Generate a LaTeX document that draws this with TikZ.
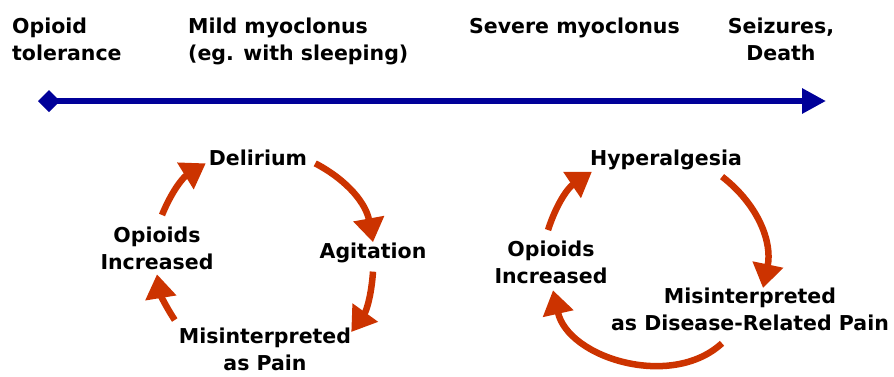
\documentclass[tikz,border=0pt]{standalone}
\usepackage{fontspec}
\setmainfont{DejaVu Sans}
\usetikzlibrary{arrows.meta}
\definecolor{cycred}{RGB}{204,51,0}
\definecolor{axisblue}{RGB}{0,0,153}

\begin{document}
\begin{tikzpicture}[x=1pt,y=1pt,
  lbl/.style={font=\bfseries\fontsize{20.5}{27}\selectfont,inner sep=0pt,align=center},
  cyc/.style={draw=cycred,line width=6.5pt,-{Triangle[length=24pt,width=30pt]}}]
  \useasboundingbox (0,0) rectangle (894,-376);
  \node[lbl,align=left,anchor=north west] (tol) at (12,-18) {Opioid\\tolerance};
  \node[lbl,align=left,anchor=north west] (mild) at (188,-18) {Mild myoclonus\\(eg. with sleeping)};
  \node[lbl,anchor=north west] (sev) at (469,-18) {Severe myoclonus};
  \node[lbl,anchor=north] (death) at (781,-18) {Seizures,\\Death};
  \coordinate (ax0) at (38,-101);
  \coordinate (ax1) at (826,-101);
  \draw[axisblue,line width=6pt,{Diamond[length=22pt,width=22pt]}-{Triangle[length=24pt,width=24pt]}] (ax0) -- (ax1);

  \node[lbl,anchor=base] (delir) at (258,-165) {Delirium};
  \node[lbl,anchor=base] (agit) at (373,-258) {Agitation};
  \node[lbl,anchor=north] (opiL) at (157,-227) {Opioids\\Increased};
  \node[lbl,anchor=north] (misL) at (265,-328) {Misinterpreted\\as Pain};
  \draw[cyc] ([shift={(8,-6)}]delir.east) to[bend left=26] (agit.north);
  \draw[cyc] ([yshift=-9]agit.south) to[bend left=16] ([yshift=-4]misL.north east);
  \draw[cyc] ([shift={(-4,8)}]misL.north west) to[bend left=12] ([yshift=-4]opiL.south);
  \draw[cyc] ([shift={(5,12)}]opiL.north) to[bend left=18] ([shift={(-3,-6)}]delir.west);

  \node[lbl,anchor=base] (hyper) at (666,-165) {Hyperalgesia};
  \node[lbl,anchor=north] (opiR) at (551,-241) {Opioids\\Increased};
  \node[lbl,anchor=north] (misR) at (750,-288) {Misinterpreted\\as Disease-Related Pain};
  \draw[cyc] ([shift={(-20,-7)}]hyper.south east) to[bend left=32] ([xshift=13]misR.north);
  \draw[cyc] ([shift={(-28,-12)}]misR.south) to[bend left=60] ([shift={(2,-6)}]opiR.south);
  \draw[cyc] ([shift={(-3,11)}]opiR.north) to[bend left=19] ([shift={(2,-2)}]hyper.south west);
\end{tikzpicture}
\end{document}
